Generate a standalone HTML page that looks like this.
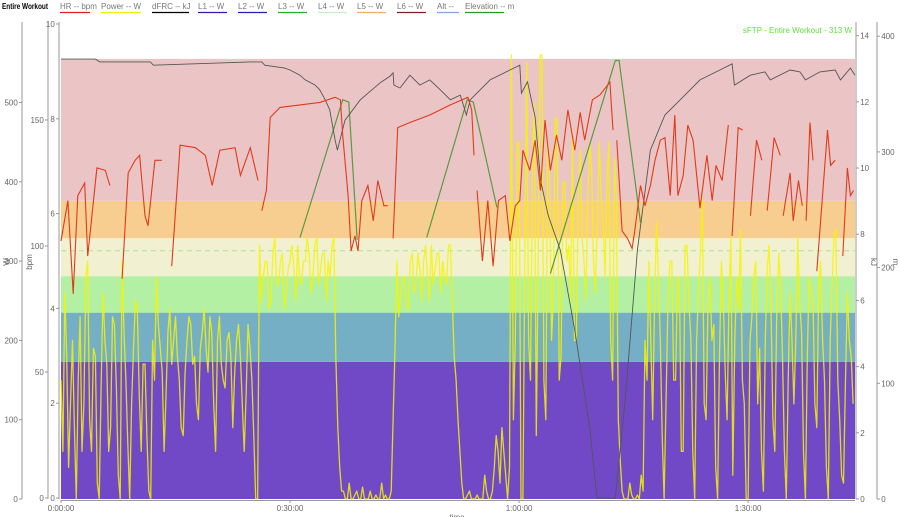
<!DOCTYPE html>
<html><head><meta charset="utf-8"><style>
html,body{margin:0;padding:0;background:#fff;}
svg{display:block;font-family:"Liberation Sans",sans-serif;}
.tk{font-size:8px;fill:#666;}
.lg{font-size:8px;fill:#777;}
</style></head><body>
<svg id="chart" width="900" height="517" viewBox="0 0 900 517" xmlns="http://www.w3.org/2000/svg">
<g id="legend"></g>
<g id="zones"></g>
<g id="series"></g>
<g id="axes"></g>
</svg>
<script>
// ---- data ----
const zoneBounds = [0, 173, 235, 281, 329, 376, 555];
const zoneColors = ["#7149c6", "#75afc6", "#b3f0a3", "#f1f1d2", "#f8cd90", "#ebc5c5"];
const sftp = 313;
const legendNames = ["HR -- bpm","Power -- W","dFRC -- kJ","L1 -- W","L2 -- W","L3 -- W","L4 -- W","L5 -- W","L6 -- W","Alt --","Elevation -- m"];
const legendColors = ["#e02020","#f0f000","#000000","#3a1a9a","#2020c0","#20b020","#c8f0c8","#f0b060","#802020","#80a8e0","#20a020"];
const timeTicks = [0, 30, 60, 90];
const timeLabels = ["0:00:00","0:30:00","1:00:00","1:30:00"];
const wTicks = [0,100,200,300,400,500];
const bpmTicks = [0,50,100,150];
const frcTicks = [0,2,4,6,8,10];
const kjTicks = [0,2,4,6,8,10,12,14];
const mTicks = [0,100,200,300,400];

const hrT = [0,0.9,1.6,2.2,3.1,3.5,4.7,5.8,6.4,null,8.0,8.8,9.7,10.3,11.0,11.4,12.3,13.2,null,14.5,15.6,17.6,18.9,19.8,20.8,22.8,23.5,24.8,25.8,null,26.3,26.9,27.4,28.7,31.3,33.9,35.9,36.6,36.9,37.6,38.0,38.5,38.9,39.4,40.2,40.9,41.5,42.3,42.8,null,43.5,44.1,45.7,48.3,51.0,53.3,53.8,54.1,null,54.5,55.2,55.9,56.6,57.3,58.2,58.8,59.5,60.1,60.5,61.4,62.1,62.8,63.4,64.1,64.9,65.6,66.4,67.3,68.0,68.6,69.6,70.6,71.9,72.3,null,72.8,73.5,74.2,74.8,75.2,75.9,76.5,77.2,77.8,78.5,79.1,79.8,80.4,80.8,81.5,82.1,82.8,83.7,84.6,85.3,85.8,86.6,87.4,null,87.9,88.7,89.3,null,90.3,91.1,91.8,null,92.5,93.4,94.2,null,94.6,95.5,95.9,96.6,97.1,null,97.6,98.1,98.5,null,99.0,100.4,100.8,101.4,null,102.4,103.0,103.4,103.8];
const hrV = [102,118,81,120,125,96,131,130,124,null,87,129,134,136,112,108,134,134,null,92,140,139,136,124,138,139,128,139,126,null,114,122,151,155,156,157,159,158,144,120,98,104,98,118,124,110,126,116,116,null,103,147,149,152,156,159,154,136,null,122,94,118,92,118,120,102,116,118,138,130,142,122,150,130,144,134,154,138,153,142,158,160,165,146,null,142,106,103,99,107,124,116,124,134,142,143,120,152,120,128,148,142,115,136,118,132,126,148,null,104,147,146,null,112,142,134,null,114,143,136,null,112,129,110,126,116,null,110,149,134,null,90,146,132,134,null,96,131,120,122];

const pwr = [
150,60,260,180,40,120,200,90,0,150,230,60,120,280,300,100,60,190,180,20,0,140,260,200,170,60,90,230,220,140,30,0,300,210,150,70,0,120,190,250,240,130,60,170,170,80,10,0,
200,150,280,220,190,160,60,130,210,240,170,200,230,180,150,90,80,160,200,230,220,170,180,120,100,190,210,240,190,160,230,210,120,60,200,230,170,150,140,200,210,180,90,160,200,220,180,120,60,130,220,190,150,80,0,0,
320,250,280,300,300,240,250,310,330,270,270,300,310,240,260,290,300,320,290,250,320,280,270,300,300,330,310,260,280,320,330,270,290,310,310,250,300,280,320,330,180,90,40,10,
10,0,0,20,0,0,5,10,0,0,15,0,0,0,10,0,0,5,0,0,20,0,5,0,0,10,100,190,
300,230,260,280,280,240,240,300,310,260,270,310,290,250,300,320,280,250,320,270,290,310,310,260,300,280,270,320,320,250,180,150,
100,60,20,0,0,5,10,0,
0,0,5,0,0,0,30,10,0,0,10,40,80,60,20,90,60,30,0,40,
560,100,200,450,450,0,0,300,550,200,150,420,500,80,300,560,560,150,100,450,
420,200,250,480,480,150,180,400,400,300,320,250,460,200,200,380,440,330,300,250,380,450,420,300,260,350,450,380,350,280,400,450,200,150,430,380,
100,50,10,0,0,0,20,5,0,0,5,0,30,10,200,150,
300,200,100,250,350,280,200,80,0,120,250,300,300,150,150,280,280,60,60,320,320,250,200,60,0,200,260,310,380,120,100,250,280,200,220,40,0,180,300,250,160,100,250,330,30,200,280,240,340,150,120,0,0,200,230,280,300,120,190,60,10,200,290,320,240,100,60,230,310,270,180,60,0,150,260,200,120,200,330,250,210,60,0,180,280,260,250,120,90,270,300,200,150,40,0,200,270,330,340,150,100,30,20,150,260,200,180,120];
const pwrStep = 0.25;

const frcT = [0,4.5,5.1,11.7,12.1,24.8,26.3,26.7,29.3,30.0,31.3,32.0,33.3,33.9,34.6,35.2,35.9,36.2,37.2,39.2,41.8,43.1,43.5,43.6,44.4,45.7,47.0,48.3,49.7,51.0,52.3,53.1,53.6,56.2,58.8,60.1,60.3,61.1,62.1,62.8,63.8,65.4,67.3,69.3,70.2,72.6,73.9,75.5,77.2,79.1,81.1,83.7,86.3,87.9,88.2,90.3,92.2,92.9,95.5,96.8,97.5,99.4,101.4,102.1,103.4,104];
const frcV = [9.26,9.26,9.2,9.2,9.13,9.2,9.2,9.13,9.07,9.03,8.92,8.82,8.71,8.61,8.4,8.19,7.55,7.34,7.97,8.4,8.76,8.9,8.97,8.71,8.65,8.92,8.71,8.82,8.61,8.4,8.5,8.08,8.4,8.82,9.03,9.13,8.54,8.78,8.04,6.71,5.97,5.23,3.54,1.43,0,0,2.07,5.23,7.34,8.08,8.4,8.82,9.03,9.16,8.71,8.92,8.99,8.82,9.03,8.99,8.82,8.99,9.03,8.82,9.07,8.92];

const eleT = [31.3,36.9,37.7,38.8,null,47.9,53.2,54.0,57.1,null,64.1,72.6,73.1,75.9];
const eleV = [226,345,343,224,null,226,345,343,252,null,195,379,379,239];

// ---- scales ----
const X0 = 61, X1 = 855, TMAX = 104, YB = 499;
const xS = t => X0 + (t / TMAX) * (X1 - X0);
const yW = w => YB - w * 0.793;
const yBpm = b => 498 - b * 2.52;
const yFrc = v => 498 - v * 47.4;
const yKj = v => YB - v * 33.1;
const yM = m => YB - m * 1.157;

const NS = "http://www.w3.org/2000/svg";
function mk(tag, attrs, parent, txt) {
  const e = document.createElementNS(NS, tag);
  for (const k in attrs) e.setAttribute(k, attrs[k]);
  if (txt !== undefined) e.textContent = txt;
  parent.appendChild(e);
  return e;
}
const gL = document.getElementById('legend');
const gZ = document.getElementById('zones');
const gS = document.getElementById('series');
const gA = document.getElementById('axes');

// legend
const t0 = mk('text', {x: 2, y: 9, 'font-size': 8, fill: '#000', 'font-weight': 'bold', textLength: 46, lengthAdjust: 'spacingAndGlyphs'}, gL, 'Entire Workout');


const legX = [60,101,152,198,238,278,318,357,397,437,465];
const legW = [30,40,37,29,29,29,29,29,29,22,39];
legendNames.forEach((n, i) => {
  const g = mk('g', {}, gL);
  
  
  mk('text', {x: legX[i], y: 9, class: 'lg'}, g, n);
  mk('line', {x1: legX[i], x2: legX[i] + legW[i], y1: 12.5, y2: 12.5, stroke: legendColors[i], 'stroke-width': 1.2}, g);
});

// zones
for (let i = 0; i < zoneColors.length; i++) {
  const r = mk('rect', {x: X0, y: yW(zoneBounds[i + 1]), width: X1 - X0, height: yW(zoneBounds[i]) - yW(zoneBounds[i + 1]), fill: zoneColors[i]}, gZ);
  
  
}
const sl = mk('line', {x1: X0, x2: X1, y1: yW(sftp), y2: yW(sftp), stroke: '#a8e890', 'stroke-width': 1, 'stroke-dasharray': '5,4'}, gZ);


const st = mk('text', {x: 852, y: 33, 'text-anchor': 'end', 'font-size': 8, fill: '#60e040'}, gZ, 'sFTP - Entire Workout - ' + sftp + ' W');



function pathFrom(ts, vs, ys) {
  let d = '', pen = false;
  for (let i = 0; i < ts.length; i++) {
    if (ts[i] === null || vs[i] === null) { pen = false; continue; }
    d += (pen ? 'L' : 'M') + xS(ts[i]).toFixed(1) + ' ' + ys(vs[i]).toFixed(1);
    pen = true;
  }
  return d;
}

// power
const pT = pwr.map((_, i) => i * pwrStep);
const pp = mk('path', {d: pathFrom(pT, pwr, yW), fill: 'none', stroke: '#f4f400', 'stroke-opacity': 0.85, 'stroke-width': 1.3, 'stroke-linejoin': 'round'}, gS);


// elevation
const pe = mk('path', {d: pathFrom(eleT, eleV, yM), fill: 'none', stroke: '#5a9a40', 'stroke-width': 1.2}, gS);


// dFRC
const pf = mk('path', {d: pathFrom(frcT, frcV, yFrc), fill: 'none', stroke: '#555', 'stroke-width': 0.9}, gS);


// HR
const ph = mk('path', {d: pathFrom(hrT, hrV, yBpm), fill: 'none', stroke: '#e03a1a', 'stroke-width': 1.1}, gS);



// axes
function vAxis(name, x, ticks, ys, labelSide, top) {
  const g = mk('g', {}, gA);
  
  
  mk('line', {x1: x, x2: x, y1: top, y2: YB, stroke: '#999', 'stroke-width': 1}, g);
  ticks.forEach(v => {
    const y = ys(v);
    const dx = labelSide < 0 ? -3 : 3;
    mk('line', {x1: x, x2: x + dx, y1: y, y2: y, stroke: '#999'}, g);
    mk('text', {x: x + dx * 1.4, y: y + 3, class: 'tk', 'text-anchor': labelSide < 0 ? 'end' : 'start'}, g, String(v));
  });
}
vAxis('w-axis', 22, wTicks, yW, -1, 22);
vAxis('bpm-axis', 48, bpmTicks, yBpm, -1, 22);
vAxis('dfrc-axis', 59, frcTicks, yFrc, -1, 22);
vAxis('kj-axis', 856, kjTicks, yKj, 1, 22);
vAxis('m-axis', 877, mTicks, yM, 1, 22);
function rotLabel(name, x, y, txt) {
  const t = mk('text', {x: x, y: y, class: 'tk', 'text-anchor': 'middle', transform: 'rotate(-90 ' + x + ' ' + y + ')'}, gA, txt);
  
  
}
rotLabel('w-axis-title', 9, 262, 'W');
rotLabel('bpm-axis-title', 32, 262, 'bpm');
const kt = mk('text', {x: 871, y: 262, class: 'tk', 'text-anchor': 'middle', transform: 'rotate(90 871 262)'}, gA, 'kJ');


const mt = mk('text', {x: 893, y: 262, class: 'tk', 'text-anchor': 'middle', transform: 'rotate(90 893 262)'}, gA, 'm');



const gx = mk('g', {}, gA);


mk('line', {x1: X0, x2: X1, y1: 500.5, y2: 500.5, stroke: '#999'}, gx);
timeTicks.forEach((t, i) => {
  mk('line', {x1: xS(t), x2: xS(t), y1: 500, y2: 503, stroke: '#999'}, gx);
  mk('text', {x: xS(t), y: 511, class: 'tk', 'text-anchor': 'middle'}, gx, timeLabels[i]);
});
const xt = mk('text', {x: 457, y: 520, class: 'tk', 'text-anchor': 'middle'}, gA, 'time');


</script>
</body></html>
